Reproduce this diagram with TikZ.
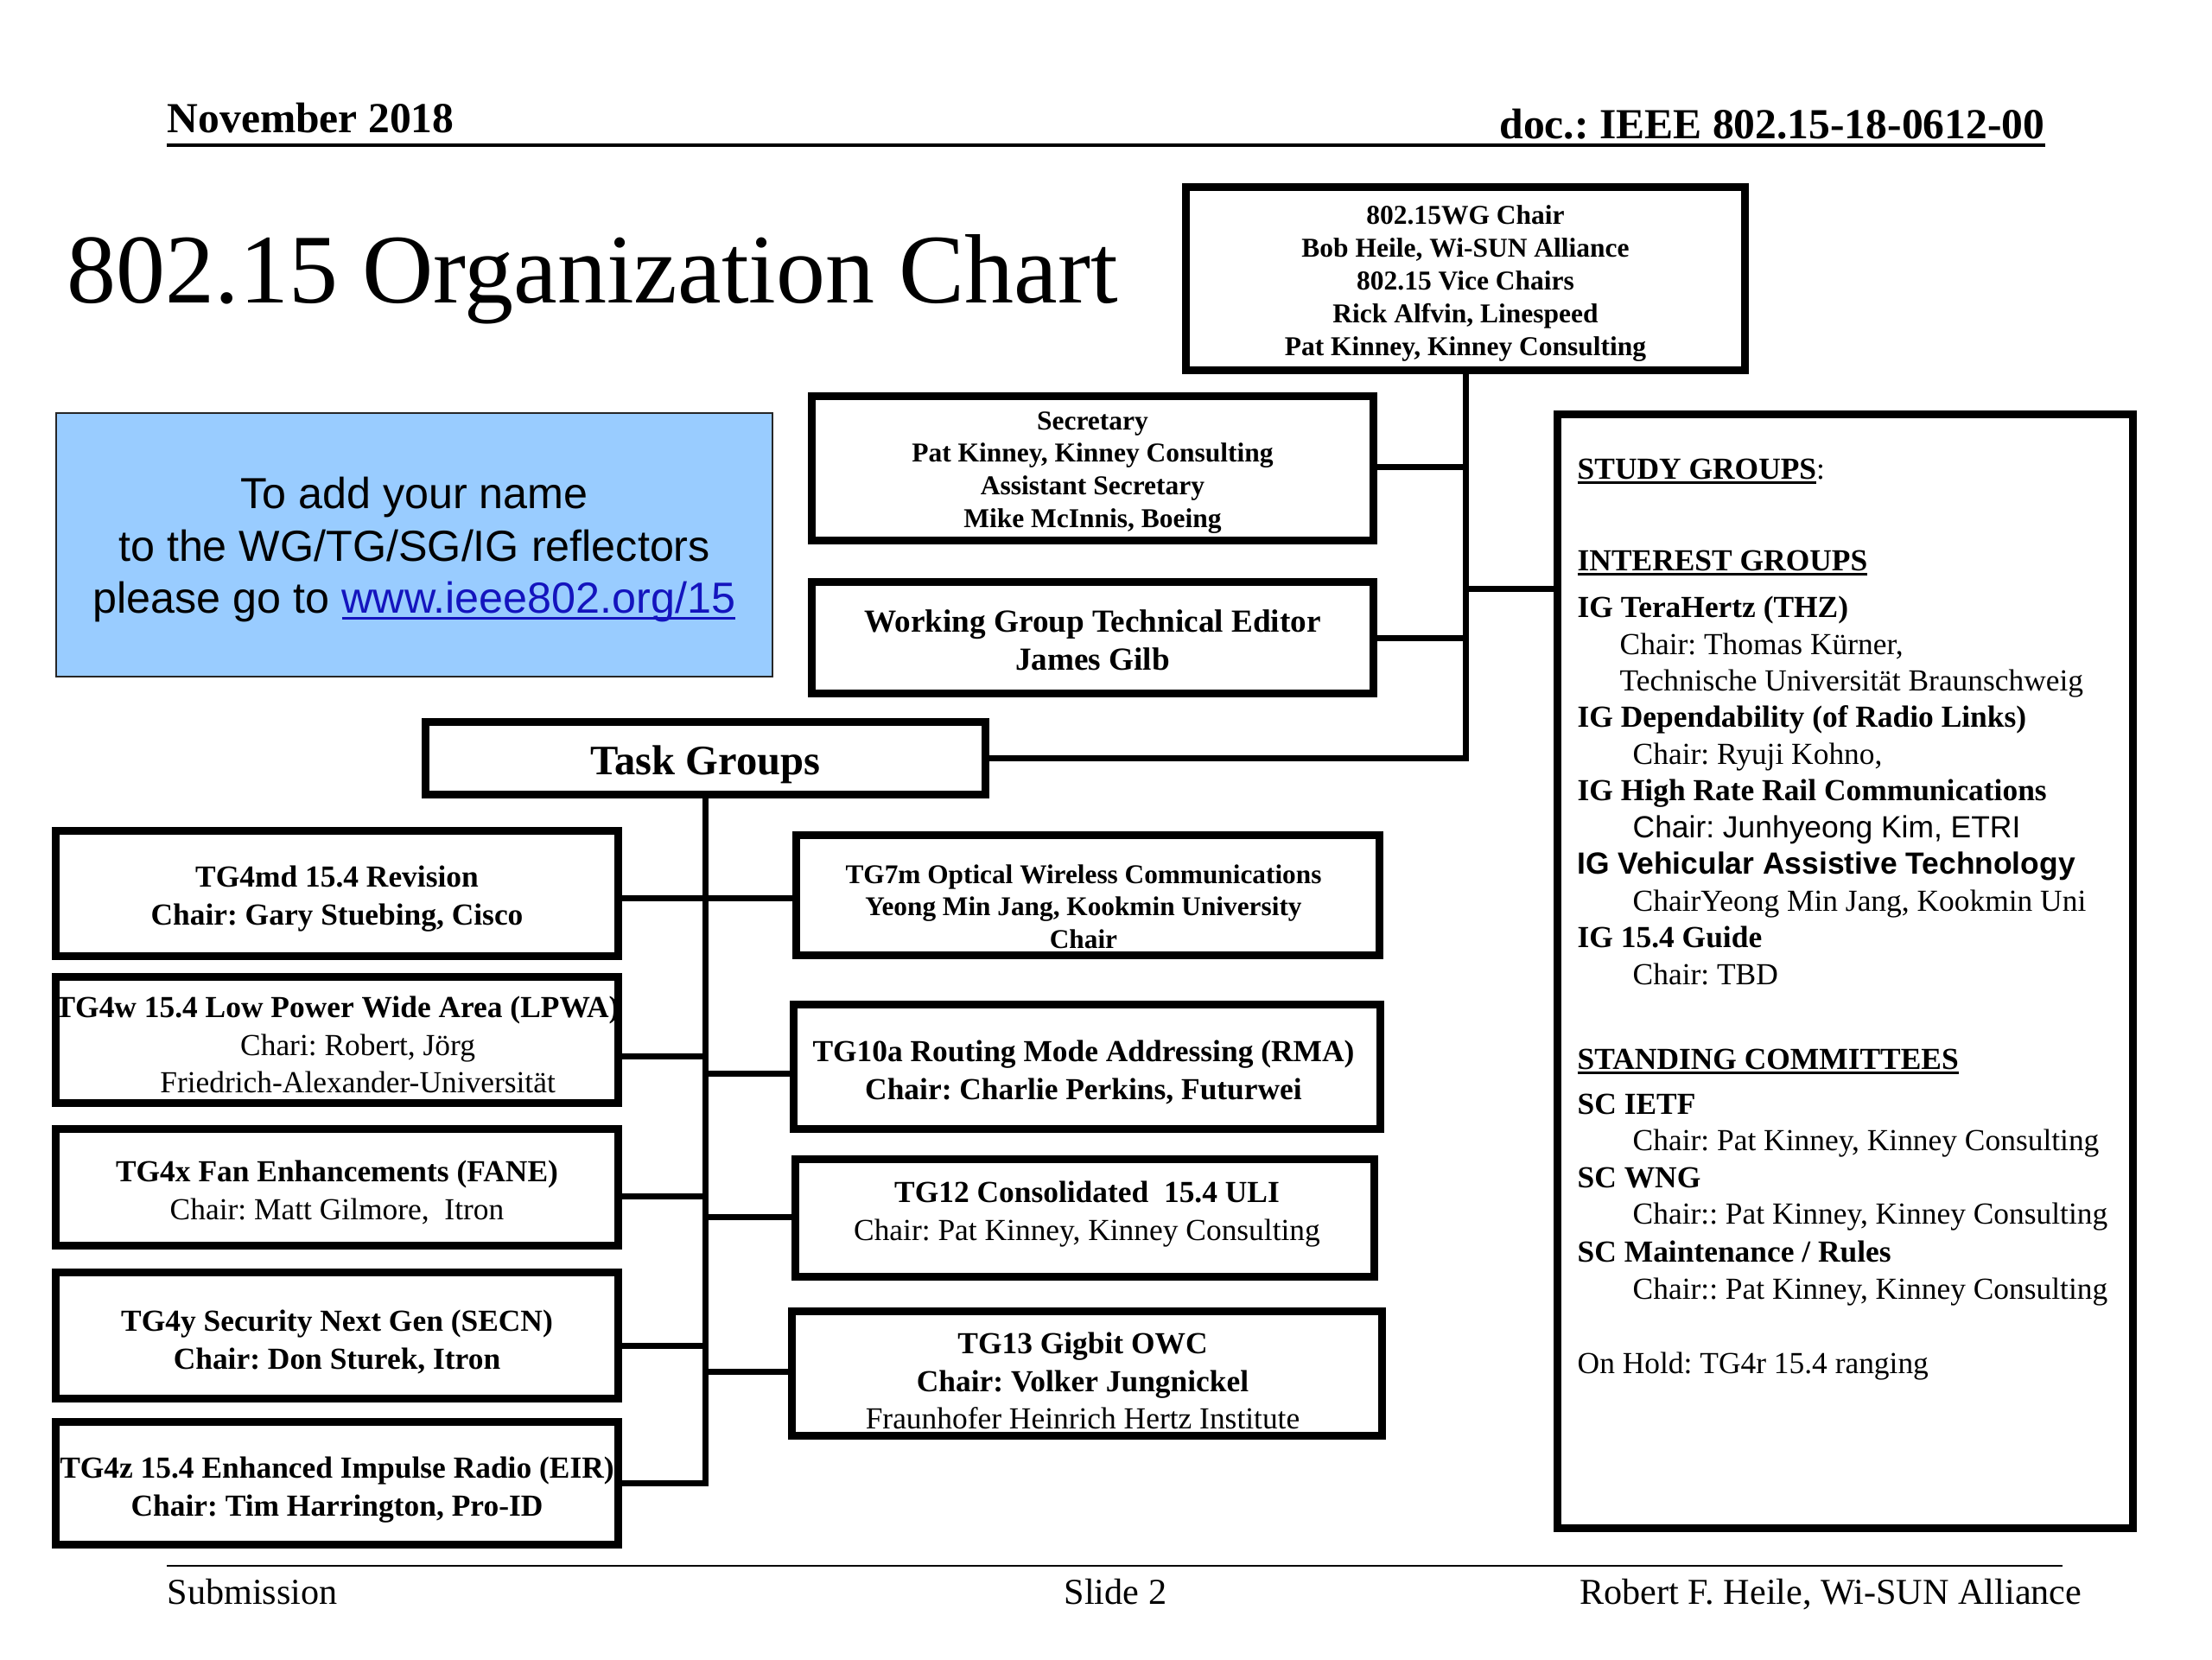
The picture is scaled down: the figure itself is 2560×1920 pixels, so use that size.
\documentclass[tikz,border=0pt]{standalone}
\usepackage{fontspec}
\setmainfont{Liberation Serif}
\newfontfamily\arialf{Liberation Sans}
\definecolor{bluefill}{RGB}{153,204,255}
\definecolor{urlblue}{RGB}{20,20,190}
\newcommand\fsz[2]{\fontsize{#1}{#2}\selectfont}
\newcommand\myul[1]{\leavevmode\setbox0\hbox{#1}\rlap{\rule[-0.16em]{\wd0}{0.065em}}\box0}
\frenchspacing
\tikzset{
  bx/.style={draw, line width=0.09cm, inner sep=0pt},
  conn/.style={line width=0.07cm},
  tx/.style={inner sep=0pt, align=center, font=\fsz{10.07}{12.3}},
  st/.style={anchor=base west, inner sep=0pt, font=\fsz{10.07}{12.3}},
}
\begin{document}
\begin{tikzpicture}[x=0.01cm,y=-0.01cm]
\useasboundingbox (0,0) rectangle (2560,1920);

% header and footer
\node[anchor=base west, inner sep=0pt, font=\fsz{14.1}{17}\bfseries] (date) at (193,153) {November 2018};
\node[anchor=base east, inner sep=0pt, font=\fsz{14.1}{17}\bfseries] (doc) at (2367,160) {doc.: IEEE 802.15-18-0612-00};
\coordinate (hl) at (193,168);
\coordinate (hr) at (2367,168);
\draw[line width=0.045cm] (hl) -- (hr);
\coordinate (fl) at (193,1812);
\coordinate (fr) at (2387,1812);
\draw[line width=0.025cm] (fl) -- (fr);
\node[anchor=base west, inner sep=0pt, font=\fsz{12}{14}] (sub) at (193,1856) {Submission};
\node[anchor=base west, inner sep=0pt, font=\fsz{12}{14}] (slide) at (1231,1856) {Slide 2};
\node[anchor=base east, inner sep=0pt, font=\fsz{12}{14}] (auth) at (2410,1856) {Robert F. Heile, Wi-SUN Alliance};

\node[anchor=base west, inner sep=0pt, font=\fsz{32.4}{39}] (title) at (77,350) {802.15 Organization Chart};

% blue box
\node[draw=black!85, line width=0.025cm, fill=bluefill, inner sep=0pt,
      minimum width=8.285cm, minimum height=3.045cm] (blue) at (479.5,630.5) {};
\node[inner sep=0pt, align=center, font=\arialf\fsz{14.3}{17.1}] (blueT) at (479.5,636)
  {To add your name\\to the WG/TG/SG/IG reflectors\\please go to \textcolor{urlblue}{\myul{www.ieee802.org/15}}};

% texts of boxes
\node[tx, font=\fsz{8.96}{10.8}\bfseries] (wgT) at (1696,328) {802.15WG Chair\\Bob Heile, Wi-SUN Alliance\\802.15 Vice Chairs\\Rick Alfvin, Linespeed\\Pat Kinney, Kinney Consulting};
\node[tx, font=\fsz{8.96}{10.8}\bfseries] (secT) at (1264.5,547) {Secretary\\Pat Kinney, Kinney Consulting\\Assistant Secretary\\Mike McInnis, Boeing};
\node[tx, font=\fsz{10.58}{12.5}\bfseries] (edT) at (1264.5,741) {Working Group Technical Editor\\James Gilb};
\node[tx, font=\fsz{13.8}{16}\bfseries] (tgT) at (816.5,885) {Task Groups};

\node[tx] (tg4mdT) at (390,1040) {\textbf{TG4md 15.4 Revision}\\\textbf{Chair: Gary Stuebing, Cisco}};
\node[tx] (tg4wT) at (390,1209) {\textbf{TG4w 15.4 Low Power Wide Area (LPWA)}\\\hspace*{13.7pt}Chari: Robert, Jörg\\\hspace*{13.7pt}Friedrich-Alexander-Universität};
\node[tx] (tg4xT) at (390,1380) {\textbf{TG4x Fan Enhancements (FANE)}\\Chair: Matt Gilmore,\ \ Itron};
\node[tx] (tg4yT) at (390,1553) {\textbf{TG4y Security Next Gen (SECN)}\\\textbf{Chair: Don Sturek, Itron}};
\node[tx] (tg4zT) at (390,1724) {\textbf{TG4z 15.4 Enhanced Impulse Radio (EIR)}\\\textbf{Chair: Tim Harrington, Pro-ID}};

\node[tx, font=\fsz{8.9}{10.7}\bfseries] (tg7mT) at (1254,1049) {TG7m Optical Wireless Communications\\Yeong Min Jang, Kookmin University\\Chair};
\node[tx] (tg10aT) at (1254,1241) {\textbf{TG10a Routing Mode Addressing (RMA)}\\\textbf{Chair: Charlie Perkins, Futurwei}};
\node[tx] (tg12T) at (1258,1405) {\textbf{TG12 Consolidated\ \ 15.4 ULI}\\Chair: Pat Kinney, Kinney Consulting};
\node[tx] (tg13T) at (1253,1598) {\textbf{TG13 Gigbit OWC}\\\textbf{Chair: Volker Jungnickel}\\Fraunhofer Heinrich Hertz Institute};

% boxes
\node[bx, minimum width=6.47cm, minimum height=2.12cm] (wg) at (1696,322.5) {};
\node[bx, minimum width=6.50cm, minimum height=1.67cm] (sec) at (1264.5,542) {};
\node[bx, minimum width=6.50cm, minimum height=1.29cm] (ed) at (1264.5,738) {};
\node[bx, minimum width=6.48cm, minimum height=0.84cm] (tg) at (816.5,877.5) {};
\node[bx, minimum width=6.66cm, minimum height=12.89cm] (study) at (2135.5,1124) {};

\node[bx, minimum width=6.50cm, minimum height=1.45cm] (tg4md) at (390,1034) {};
\node[bx, minimum width=6.50cm, minimum height=1.46cm] (tg4w) at (390,1203.5) {};
\node[bx, minimum width=6.50cm, minimum height=1.35cm] (tg4x) at (390,1374) {};
\node[bx, minimum width=6.50cm, minimum height=1.46cm] (tg4y) at (390,1545.5) {};
\node[bx, minimum width=6.50cm, minimum height=1.42cm] (tg4z) at (390,1716.5) {};

\node[bx, minimum width=6.75cm, minimum height=1.39cm] (tg7m) at (1259,1036) {};
\node[bx, minimum width=6.79cm, minimum height=1.44cm] (tg10a) at (1258,1234.5) {};
\node[bx, minimum width=6.70cm, minimum height=1.36cm] (tg12) at (1255.5,1409.5) {};
\node[bx, minimum width=6.83cm, minimum height=1.44cm] (tg13) at (1258,1589.5) {};

% connectors
\draw[conn] (wg.south) |- (tg.east);
\draw[conn] (sec.east |- 0,540) -- (wg.south |- 0,540);
\draw[conn] (ed.east) -- (ed.east -| wg.south);
\coordinate (sj) at (wg.south |- 0,681);
\draw[conn] (sj) -- (sj -| study.west);

\draw[conn] (tg.south) |- (tg4z.east);
\draw[conn] (tg4md.east |- 0,1039) -- (tg.south |- 0,1039);
\draw[conn] (tg4w.east |- 0,1222) -- (tg.south |- 0,1222);
\draw[conn] (tg4x.east |- 0,1384) -- (tg.south |- 0,1384);
\draw[conn] (tg4y.east |- 0,1557) -- (tg.south |- 0,1557);
\draw[conn] (tg.south |- 0,1039) -- (tg7m.west |- 0,1039);
\draw[conn] (tg.south |- 0,1242) -- (tg10a.west |- 0,1242);
\draw[conn] (tg.south |- 0,1408) -- (tg12.west |- 0,1408);
\draw[conn] (tg.south |- 0,1587) -- (tg13.west |- 0,1587);

% study box content
\node[st] (s1) at (1825,554) {\textbf{\myul{STUDY GROUPS}}:};
\node[st] (s2) at (1825,660) {\textbf{\myul{INTEREST GROUPS}}};
\node[st] (s3) at (1825,714) {\textbf{IG TeraHertz (THZ)}};
\node[st] (s4) at (1874,757) {Chair: Thomas Kürner,};
\node[st] (s5) at (1874,799) {Technische Universität Braunschweig};
\node[st] (s6) at (1825,841) {\textbf{IG Dependability (of Radio Links)}};
\node[st] (s7) at (1889,884) {Chair: Ryuji Kohno,};
\node[st] (s8) at (1825,926) {\textbf{IG High Rate Rail Communications}};
\node[st] (s9) at (1889,969) {\arialf Chair: Junhyeong Kim, ETRI};
\node[st] (s10) at (1825,1011) {\arialf\bfseries IG Vehicular Assistive Technology};
\node[st] (s11) at (1889,1054) {ChairYeong Min Jang, Kookmin Uni};
\node[st] (s12) at (1825,1096) {\textbf{IG 15.4 Guide}};
\node[st] (s13) at (1889,1139) {Chair: TBD};
\node[st] (s14) at (1825,1237) {\textbf{\myul{STANDING COMMITTEES}}};
\node[st] (s15) at (1825,1289) {\textbf{SC IETF}};
\node[st] (s16) at (1889,1331) {Chair: Pat Kinney, Kinney Consulting};
\node[st] (s17) at (1825,1374) {\textbf{SC WNG}};
\node[st] (s18) at (1889,1416) {Chair:: Pat Kinney, Kinney Consulting};
\node[st] (s19) at (1825,1460) {\textbf{SC Maintenance / Rules}};
\node[st] (s20) at (1889,1503) {Chair:: Pat Kinney, Kinney Consulting};
\node[st] (s21) at (1825,1589) {On Hold: TG4r 15.4 ranging};
\end{tikzpicture}
\end{document}
